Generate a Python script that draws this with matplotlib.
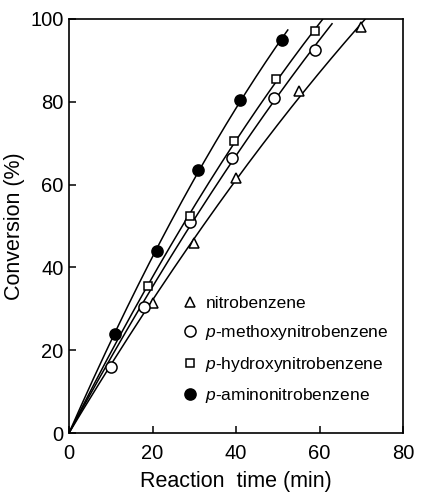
import numpy as np
import matplotlib
matplotlib.use("Agg")
import matplotlib.pyplot as plt
from matplotlib.lines import Line2D

plt.rcParams['font.family'] = ['Liberation Sans', 'DejaVu Sans']
plt.rcParams['mathtext.fontset'] = 'custom'
plt.rcParams['mathtext.it'] = 'Liberation Sans:italic'
plt.rcParams['mathtext.rm'] = 'Liberation Sans'

# data
nitro_t = [20, 30, 40, 55, 70]
nitro_c = [31.5, 46, 61.5, 82.5, 98]
methoxy_t = [10, 18, 29, 39, 49, 59]
methoxy_c = [16, 30.5, 51, 66.5, 81, 92.5]
hydroxy_t = [19, 29, 39.5, 49.5, 59]
hydroxy_c = [35.5, 52.5, 70.5, 85.5, 97]
amino_t = [11, 21, 31, 41, 51]
amino_c = [24, 44, 63.5, 80.5, 95]

labels = ['nitrobenzene', '$p$-methoxynitrobenzene',
          '$p$-hydroxynitrobenzene', '$p$-aminonitrobenzene']
# where each fitted curve stops
curve_end = [71, 63, 60.7, 52.4]

fig = plt.figure(figsize=(4.22, 4.93), dpi=100)
ax = fig.add_axes([0.1635, 0.1217, 0.7915, 0.8398])

series = [
    (nitro_t, nitro_c, dict(marker='^', mfc='white', mec='black', ms=7.5, mew=1.1)),
    (methoxy_t, methoxy_c, dict(marker='o', mfc='white', mec='black', ms=8, mew=1.1)),
    (hydroxy_t, hydroxy_c, dict(marker='s', mfc='white', mec='black', ms=6, mew=1.1)),
    (amino_t, amino_c, dict(marker='o', mfc='black', mec='black', ms=8, mew=1.1)),
]

handles = []
for (t, c, st), tend, lab in zip(series, curve_end, labels):
    t = np.array(t, float)
    c = np.array(c, float)
    # fit c = a*t + b*t^2 through the origin
    A = np.column_stack([t, t ** 2])
    coef, *_ = np.linalg.lstsq(A, c, rcond=None)
    tt = np.linspace(0, tend, 200)
    ax.plot(tt, coef[0] * tt + coef[1] * tt ** 2, color='black', lw=1.1, zorder=2)
    ax.plot(t, c, ls='none', zorder=3, **st)
    handles.append(Line2D([], [], ls='none', label=lab, **st))

ax.set_xlim(0, 80)
ax.set_ylim(0, 100)
ax.set_xticks([0, 20, 40, 60, 80])
ax.set_yticks([0, 20, 40, 60, 80, 100])
ax.tick_params(direction='in', length=5, width=1.1, labelsize=14.5)
ax.tick_params(axis='x', pad=8)
ax.tick_params(axis='y', pad=4)
for s in ax.spines.values():
    s.set_linewidth(1.2)

ax.set_xlabel('Reaction  time (min)', fontsize=15.5, labelpad=6)
ax.set_ylabel('Conversion (%)', fontsize=15.5, labelpad=4)

ax.legend(handles=handles, loc='lower left', bbox_to_anchor=(0.315, 0.05),
          frameon=False, fontsize=12.5, handlelength=1.0, handletextpad=0.4,
          labelspacing=0.72, borderaxespad=0)

fig.savefig('out.png', dpi=100)
